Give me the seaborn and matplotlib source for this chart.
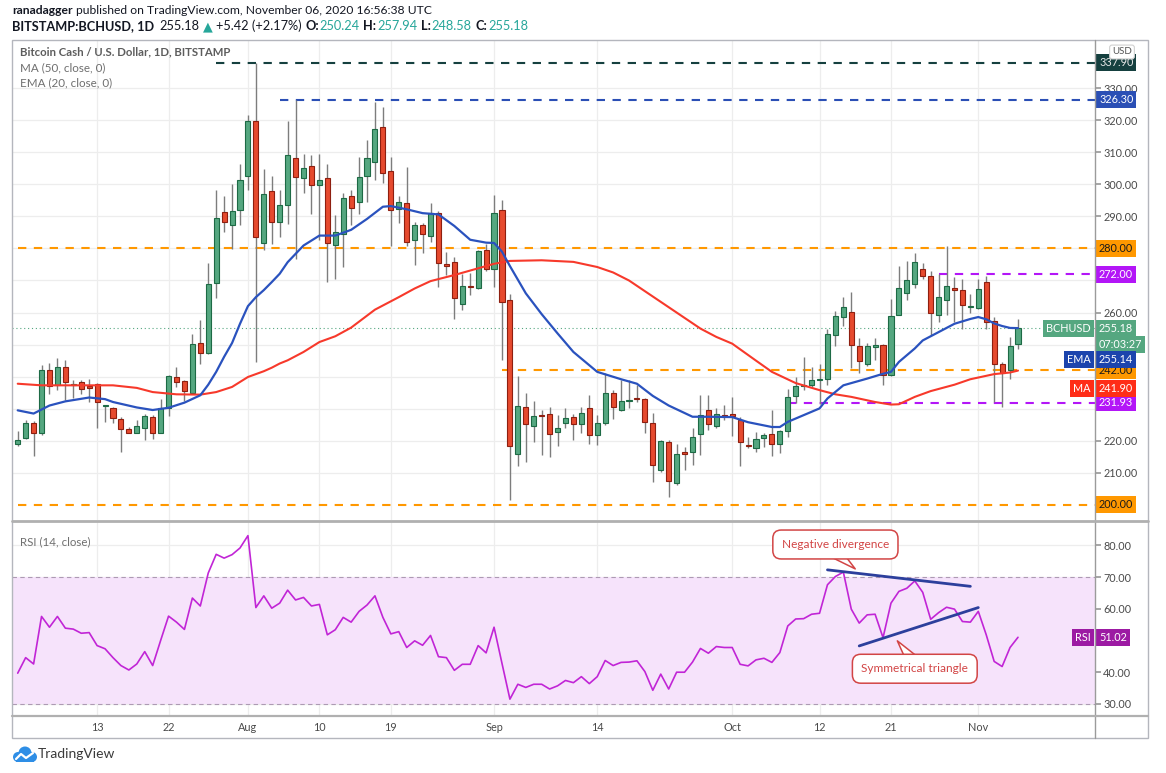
import numpy as np
import pandas as pd
import matplotlib
matplotlib.use("Agg")
import matplotlib.pyplot as plt
import seaborn as sns
from matplotlib.patches import Rectangle, Circle
from matplotlib.lines import Line2D

W, H = 1166, 773

# BITSTAMP:BCHUSD daily candles, 2020-07-03 .. 2020-11-06
start_date = "2020-07-03"
opens = [218.9, 220.9, 225.4, 222.5, 242.2, 237.5, 243.0, 237.3, 238.2, 237.0,
         237.8, 230.7, 230.1, 226.9, 223.8, 222.5, 224.1, 227.5, 222.5, 230.1,
         239.9, 238.6, 234.9, 250.6, 247.5, 269.3, 291.5, 287.4, 292.0, 302.5,
         319.6, 281.8, 297.8, 288.2, 293.4, 308.2, 301.9, 305.6, 299.8, 301.9,
         281.1, 284.6, 296.2, 294.4, 302.5, 306.9, 317.8, 304.0, 292.4, 294.2,
         282.7, 287.2, 283.8, 291.1, 275.1, 275.7, 262.8, 268.4, 267.7, 279.4,
         273.5, 292.0, 264.0, 216.0, 230.4, 224.7, 228.0, 228.5, 222.6, 225.4,
         227.5, 225.1, 230.3, 221.7, 225.6, 235.0, 229.5, 232.5, 233.5, 232.9,
         225.4, 211.0, 219.7, 206.9, 216.6, 216.6, 222.0, 229.7, 224.7, 228.2,
         228.3, 226.6, 218.8, 217.8, 221.0, 222.0, 219.1, 223.1, 234.0, 237.0,
         237.5, 238.9, 239.2, 253.1, 258.6, 260.2, 249.6, 243.8, 249.3, 250.0,
         240.6, 259.3, 266.1, 269.0, 273.7, 271.3, 259.1, 264.0, 267.7, 267.1,
         261.7, 261.5, 269.5, 257.3, 244.1, 242.0, 250.24]
highs = [223.1, 226.6, 226.1, 243.6, 244.3, 245.8, 245.3, 238.9, 239.1, 239.4,
         238.0, 231.1, 230.6, 227.5, 224.3, 226.4, 228.5, 228.0, 232.9, 240.4,
         243.0, 239.1, 253.4, 257.8, 275.4, 298.3, 296.2, 300.1, 306.4, 321.7,
         337.9, 304.8, 302.7, 298.3, 319.7, 326.3, 309.3, 309.0, 309.3, 306.2,
         290.3, 297.2, 298.1, 308.5, 313.9, 325.6, 324.2, 308.5, 296.5, 305.4,
         288.2, 287.9, 294.2, 291.6, 278.9, 277.3, 272.1, 272.3, 279.4, 281.5,
         296.8, 295.0, 265.9, 240.1, 234.9, 232.4, 229.7, 230.4, 228.0, 230.1,
         228.5, 230.4, 234.4, 228.0, 241.2, 235.8, 238.9, 238.9, 237.3, 233.2,
         228.7, 220.2, 220.2, 218.9, 218.1, 224.0, 234.2, 234.2, 230.1, 231.1,
         233.7, 227.5, 221.2, 222.6, 222.3, 229.7, 223.3, 236.0, 239.9, 246.1,
         243.0, 244.1, 255.0, 260.4, 265.0, 266.4, 252.2, 250.6, 252.2, 250.3,
         264.3, 274.4, 276.0, 278.5, 275.5, 273.1, 272.1, 280.7, 271.1, 270.6,
         265.9, 270.6, 271.3, 258.6, 244.6, 252.4, 257.94]
lows = [218.5, 220.7, 215.2, 221.7, 234.7, 235.8, 232.6, 233.2, 234.7, 232.1,
        224.0, 225.9, 225.6, 216.6, 222.3, 222.3, 220.2, 220.7, 222.3, 227.7,
        236.8, 232.4, 234.7, 244.1, 247.2, 264.6, 285.1, 279.9, 287.2, 298.1,
        244.6, 279.6, 281.5, 283.7, 287.7, 276.8, 297.3, 290.8, 282.5, 269.5,
        270.6, 274.2, 287.2, 290.6, 294.4, 301.2, 300.4, 280.9, 287.9, 280.6,
        274.7, 278.5, 282.0, 268.0, 271.6, 258.1, 260.9, 265.4, 267.4, 272.9,
        268.0, 245.3, 201.5, 212.2, 213.4, 219.5, 215.5, 215.0, 218.3, 224.0,
        220.4, 222.3, 219.1, 218.6, 224.9, 226.9, 229.3, 230.1, 232.1, 222.3,
        207.2, 210.3, 202.5, 206.1, 210.8, 212.4, 215.5, 223.3, 224.0, 226.4,
        221.5, 212.1, 217.6, 216.6, 218.1, 215.2, 216.3, 221.2, 231.9, 235.8,
        236.8, 231.6, 237.5, 249.6, 255.7, 242.7, 241.0, 243.3, 245.1, 237.5,
        240.1, 259.1, 263.8, 267.7, 270.6, 252.9, 257.1, 259.1, 257.1, 255.0,
        259.9, 261.2, 255.0, 232.1, 230.6, 239.4, 248.58]
closes = [220.4, 225.4, 222.5, 242.0, 237.1, 243.0, 238.4, 237.8, 236.3, 236.6,
          232.1, 230.9, 227.1, 223.8, 222.5, 224.5, 227.8, 222.5, 230.3, 240.1,
          238.2, 235.6, 250.3, 247.5, 268.8, 289.4, 288.2, 291.8, 301.2, 319.6,
          283.5, 297.0, 288.2, 293.6, 309.0, 302.4, 305.1, 299.8, 301.4, 281.8,
          285.1, 295.8, 292.6, 302.4, 308.2, 317.1, 303.5, 292.0, 294.4, 282.0,
          287.4, 284.4, 291.1, 275.4, 274.5, 264.5, 268.2, 268.0, 279.1, 273.7,
          291.0, 263.3, 218.4, 230.8, 225.1, 227.8, 227.7, 222.0, 224.0, 227.2,
          225.1, 228.8, 221.7, 225.4, 234.9, 230.6, 232.3, 232.7, 233.1, 225.9,
          212.4, 219.9, 207.5, 216.0, 215.9, 221.2, 228.0, 225.2, 228.5, 227.6,
          227.8, 219.5, 218.3, 220.7, 221.7, 219.1, 223.0, 233.7, 237.0, 237.2,
          238.9, 239.4, 253.4, 258.8, 261.7, 250.0, 244.9, 249.6, 249.9, 240.6,
          258.8, 267.7, 270.2, 275.7, 271.3, 259.9, 264.8, 268.2, 267.1, 262.2,
          261.9, 267.4, 257.1, 244.1, 241.0, 249.6, 255.18]

# RSI (14, close), one value per candle
rsi = [39.7, 44.6, 42.6, 57.6, 54.2, 57.6, 53.9, 53.6, 52.3, 52.5,
       48.4, 47.4, 44.6, 42.1, 40.7, 42.6, 46.5, 42.1, 50.0, 57.7,
       55.8, 53.5, 63.4, 60.9, 71.3, 77.2, 76.0, 77.1, 79.2, 83.1,
       60.4, 64.1, 60.2, 61.8, 65.9, 62.8, 63.6, 60.9, 61.4, 51.8,
       53.4, 57.3, 55.8, 59.2, 61.2, 64.1, 57.3, 52.1, 52.8, 47.8,
       49.9, 48.5, 51.6, 44.9, 44.6, 40.6, 42.5, 42.5, 48.4, 46.1,
       54.2, 42.8, 31.5, 36.2, 35.2, 36.2, 36.2, 34.7, 35.7, 37.4,
       36.7, 38.6, 36.4, 38.6, 43.7, 42.1, 43.1, 43.2, 43.6, 40.2,
       34.3, 39.4, 34.7, 40.0, 40.0, 43.2, 47.5, 46.0, 48.1, 47.8,
       47.8, 42.5, 42.0, 43.9, 44.4, 43.1, 46.2, 54.6, 56.8, 56.9,
       58.3, 58.6, 67.6, 70.2, 71.6, 59.9, 55.5, 58.1, 58.3, 50.9,
       61.8, 65.5, 66.5, 68.8, 65.2, 56.7, 58.8, 60.5, 59.9, 56.0,
       55.8, 59.2, 51.8, 43.4, 41.8, 47.8, 51.02]

# EMA(20) and MA(50) read at sample days (day 0 = start_date)
ema_days = [0, 2, 4, 6, 9, 11, 12, 15, 17, 19, 21, 23, 24, 25, 26, 27, 28, 29,
            30, 31, 32, 33, 34, 36, 38, 40, 42, 44, 46, 47, 49, 51, 53, 55, 57,
            59, 60, 61, 62, 64, 66, 67, 68, 70, 73, 76, 78, 80, 82, 85, 87, 90,
            92, 95, 96, 97, 99, 101, 102, 104, 107, 109, 110, 111, 113, 114,
            116, 118, 120, 121, 122, 123, 124, 125, 126]
ema_vals = [229.5, 228.5, 231.0, 232.3, 233.5, 233.0, 232.1, 230.4, 229.6, 230.3,
            231.9, 234.2, 237.5, 241.5, 246.2, 250.5, 256.5, 262.0, 264.8, 267.0,
            269.5, 272.1, 275.7, 280.9, 284.0, 284.0, 285.8, 289.2, 293.0, 293.2,
            292.2, 291.0, 290.6, 287.0, 282.7, 281.8, 281.7, 279.0, 274.5, 266.0,
            259.5, 256.5, 253.5, 247.7, 241.5, 239.2, 237.8, 234.0, 231.0, 227.5,
            227.5, 227.4, 225.8, 224.3, 224.3, 225.9, 228.0, 230.1, 233.2, 237.3,
            239.4, 240.9, 241.5, 244.6, 248.8, 251.3, 253.9, 256.5, 258.0, 258.6,
            257.9, 256.6, 255.8, 255.2, 255.14]
ma_days = [0, 3, 8, 12, 15, 17, 20, 23, 25, 27, 29, 31, 32, 33, 34, 36, 38, 40,
           42, 45, 48, 50, 52, 55, 58, 60, 62, 66, 70, 73, 75, 77, 80, 83, 86,
           88, 90, 93, 95, 98, 101, 103, 105, 108, 110, 111, 113, 115, 118, 120,
           123, 125, 126]
ma_vals = [237.8, 237.3, 237.3, 237.3, 236.5, 235.2, 234.5, 234.4, 235.2, 236.8,
           239.9, 241.7, 242.8, 244.1, 245.1, 247.7, 250.8, 252.6, 255.3, 260.9,
           264.8, 267.5, 269.8, 271.7, 273.8, 275.2, 276.1, 276.3, 275.8, 274.2,
           272.5, 270.0, 265.0, 260.0, 255.0, 252.4, 250.3, 245.0, 241.5, 238.0,
           235.8, 234.5, 233.7, 232.1, 231.3, 231.4, 233.7, 235.5, 237.5, 239.2,
           240.8, 241.3, 241.9]

# horizontal levels drawn by the author
level_vals = [337.90, 326.30, 280.00, 272.00, 242.00, 231.93, 200.00]
level_from = [25, 33, 0, 116, 61, 97, 0]
level_colors = ["#15403f", "#2b4fb5", "#ff9800", "#b316f7", "#ff9800", "#b316f7", "#ff9800"]
level_text = ["#e8e8e8", "white", "#1a1a1a", "white", "#1a1a1a", "white", "#1a1a1a"]

# RSI trend lines
div_days, div_vals = [102, 120], [72.3, 67.1]
tri_days, tri_vals = [106, 121], [48.3, 60.4]

tick_dates = ["2020-07-13", "2020-07-22", "2020-08-01", "2020-08-10", "2020-08-19",
              "2020-09-01", "2020-09-14", "2020-10-01", "2020-10-12", "2020-10-21",
              "2020-11-01"]
tick_labels = ["13", "22", "Aug", "10", "19", "Sep", "14", "Oct", "12", "21", "Nov"]
price_ticks = [210, 220, 230, 240, 250, 260, 270, 280, 290, 300, 310, 320, 330]
price_hidden = [230, 240, 250, 270, 280]      # covered by the coloured tags
rsi_ticks = [30, 40, 50, 60, 70, 80]
rsi_hidden = [50]

# ---------------------------------------------------------------------------
sns.set_theme(style="white")
plt.rcParams["font.family"] = ["Lato", "DejaVu Sans"]

GREEN, GREEN_E = "#55a780", "#1d6a45"
RED, RED_E = "#e64a2e", "#8e1f10"
GRID = "#ededed"
TXT = "#4a4a4a"

start = pd.Timestamp(start_date)
n = len(closes)
x = np.arange(n)
o, h, l, c = map(np.asarray, (opens, highs, lows, closes))
tick_pos = (pd.to_datetime(tick_dates) - start).days.values
XL = (-0.72, 135.7)


def fx(px):
    return px / W


def fy(py):
    return 1 - py / H


fig = plt.figure(figsize=(W / 100, H / 100), dpi=100)
ax = fig.add_axes([fx(12), fy(520), fx(1083), 480 / H])
ax2 = fig.add_axes([fx(12), fy(715), fx(1083), 193 / H])

for a in (ax, ax2):
    for s in a.spines.values():
        s.set_visible(False)
    a.set_xlim(*XL)
    a.set_xticks(tick_pos)
    a.grid(True, color=GRID, lw=0.9, zorder=0)
    a.set_axisbelow(True)
    a.yaxis.tick_right()
    a.tick_params(axis="y", which="both", length=4, color="#9a9a9a", labelsize=7.8,
                  labelcolor=TXT, pad=2, right=True, left=False)

ax.set_ylim(195.3, 345.0)
ax.set_yticks(price_ticks)
ax.set_yticklabels(["" if v in price_hidden else f"{v:.2f}" for v in price_ticks])
ax.tick_params(axis="x", length=0, labelbottom=False)

# candles
up = c >= o
body_lo = np.minimum(o, c)
body_h = np.maximum(np.abs(c - o), 0.35)
ax.vlines(x, l, h, color="#7d7d7d", lw=1.0, zorder=3)
ax.bar(x[up], body_h[up], bottom=body_lo[up], width=0.64, color=GREEN,
       edgecolor=GREEN_E, lw=0.8, zorder=4)
ax.bar(x[~up], body_h[~up], bottom=body_lo[~up], width=0.64, color=RED,
       edgecolor=RED_E, lw=0.8, zorder=4)

# moving averages
sns.lineplot(x=ma_days, y=ma_vals, ax=ax, color="#f7392b", lw=1.5, zorder=5)
sns.lineplot(x=ema_days, y=ema_vals, ax=ax, color="#2a52be", lw=1.6, zorder=5)

# levels
for v, x0, col in zip(level_vals, level_from, level_colors):
    ax.plot([x0, XL[1]], [v, v], color=col, lw=1.5, dashes=(4, 3.6), zorder=2)
ax.axhline(closes[-1], color=GREEN, lw=0.8, ls=(0, (1, 2.5)), zorder=2)

ax.set_xlabel("")
ax.set_ylabel("")


def tag(a, yv, text, bg, fg, side="right", size=7.8, weight="normal"):
    if side == "right":
        xa, ha = 1 + 4 / 1083, "left"
    else:
        xa, ha = 1 - 4 / 1083, "right"
    a.text(xa, yv, text, transform=a.get_yaxis_transform(), ha=ha, va="center",
           fontsize=size, color=fg, fontweight=weight, clip_on=False, zorder=20,
           bbox=dict(boxstyle="square,pad=0.28", fc=bg, ec="none"))


def py2price(py):
    return 280 - (py - 248) / 3.208


for v, col, fg in zip(level_vals, level_colors, level_text):
    tag(ax, v, f"{v:.2f}", col, fg)
tag(ax, py2price(328), f"{closes[-1]:.2f}", GREEN, "white")
tag(ax, py2price(328), "BCHUSD", GREEN, "white", side="left")
tag(ax, py2price(344.5), "07:03:27", GREEN, "white")
tag(ax, py2price(359), f"{ema_vals[-1]:.2f}", "#1c44ad", "white")
tag(ax, py2price(359), "EMA", "#1c44ad", "white", side="left")
tag(ax, py2price(388), "241.90", "#ff2d17", "white")
tag(ax, py2price(388), "MA", "#ff2d17", "white", side="left")

ax.text(0.0075, 0.976, "Bitcoin Cash / U.S. Dollar, 1D, BITSTAMP", transform=ax.transAxes,
        fontsize=8.2, color="#5d5d5d", fontweight="bold", va="center")
ax.text(0.0075, 0.943, "MA (50, close, 0)", transform=ax.transAxes,
        fontsize=8.4, color="#6f6f6f", va="center")
ax.text(0.0075, 0.911, "EMA (20, close, 0)", transform=ax.transAxes,
        fontsize=8.4, color="#6f6f6f", va="center")

# RSI panel
ax2.set_ylim(26.5, 87.4)
ax2.set_yticks(rsi_ticks)
ax2.set_yticklabels(["" if v in rsi_hidden else f"{v:.2f}" for v in rsi_ticks])
ax2.axhspan(30, 70, color="#f6e3fb", zorder=1, lw=0)
for v in (30, 70):
    ax2.axhline(v, color="#ad9ab3", lw=0.8, ls=(0, (4, 3)), zorder=2)
sns.lineplot(x=x, y=rsi, ax=ax2, color="#c125d6", lw=1.2, zorder=5)
sns.lineplot(x=div_days, y=div_vals, ax=ax2, color="#2c3f9c", lw=2.0, zorder=6)
sns.lineplot(x=tri_days, y=tri_vals, ax=ax2, color="#2c3f9c", lw=2.0, zorder=6)
ax2.set_xticklabels(tick_labels)
ax2.tick_params(axis="x", length=0, labelsize=7.8, labelcolor=TXT, pad=5)
ax2.set_xlabel("")
ax2.set_ylabel("")
ax2.text(0.0075, 0.9, "RSI (14, close)", transform=ax2.transAxes,
         fontsize=8.3, color="#6f6f6f", va="center")
tag(ax2, rsi[-1], f"{rsi[-1]:.2f}", "#9c1aa3", "white")
tag(ax2, rsi[-1], "RSI", "#9c1aa3", "white", side="left")

CALL = "#d24545"
callbox = dict(boxstyle="round,pad=0.75,rounding_size=0.7", fc="white", ec=CALL, lw=1.1)
ax2.annotate("Negative divergence", xy=(105.5, 72.6), xytext=(103.0, 80.3),
             ha="center", va="center", fontsize=8.6, color=CALL, bbox=callbox, zorder=8,
             arrowprops=dict(arrowstyle="wedge,tail_width=1.0,shrink_factor=0.5",
                             fc="white", ec=CALL, lw=1.1, relpos=(0.47, 0.0),
                             patchA=None, shrinkA=0, shrinkB=0, mutation_scale=10))
ax2.annotate("Symmetrical triangle", xy=(110.8, 49.9), xytext=(113.0, 41.1),
             ha="center", va="center", fontsize=8.6, color=CALL, bbox=callbox, zorder=8,
             arrowprops=dict(arrowstyle="wedge,tail_width=1.0,shrink_factor=0.5",
                             fc="white", ec=CALL, lw=1.1, relpos=(0.5, 1.0),
                             patchA=None, shrinkA=0, shrinkB=0, mutation_scale=10))

# frame around the chart
FRAME = "#b4b6bd"
fig.add_artist(Rectangle((fx(12), fy(738)), fx(1136), 698 / H, transform=fig.transFigure,
                         fill=False, ec=FRAME, lw=1.0))
fig.add_artist(Line2D([fx(1095), fx(1095)], [fy(40), fy(738)], color="#9b9b9b", lw=1.0))
fig.add_artist(Line2D([fx(12), fx(1148)], [fy(521), fy(521)], color="#b0b0b0", lw=2.0))
fig.add_artist(Line2D([fx(12), fx(1148)], [fy(715.5), fy(715.5)], color="#b0b0b0", lw=1.6))

fig.text(fx(1122), fy(52), "USD", fontsize=7, color="#555555", ha="center", va="center",
         bbox=dict(boxstyle="round,pad=0.25", fc="white", ec="#d0d0d0", lw=0.8))

# header lines with coloured runs
renderer = fig.canvas.get_renderer()


def runs(px, py, parts, size):
    xpos = px
    for text, color, weight, gap in parts:
        xpos += gap
        t = fig.text(fx(xpos), fy(py), text, fontsize=size, color=color, fontweight=weight,
                     ha="left", va="center")
        xpos += t.get_window_extent(renderer=renderer).width


DARK = "#131722"
UPC = "#26a69a"
runs(12, 10, [("ranadagger", DARK, "bold", 0),
              ("published on TradingView.com, November 06, 2020 16:56:38 UTC", DARK, "normal", 3.3)],
     8.7)
runs(12, 26, [("BITSTAMP:BCHUSD, 1D", DARK, "bold", 0),
              (f"{closes[-1]:.2f}", DARK, "normal", 5),
              ("▲", UPC, "normal", 3.5),
              ("+5.42 (+2.17%)", DARK, "normal", 3.5),
              ("O:", DARK, "bold", 3.5), (f"{opens[-1]:.2f}", UPC, "normal", 1),
              ("H:", DARK, "bold", 3.5), (f"{highs[-1]:.2f}", UPC, "normal", 1),
              ("L:", DARK, "bold", 3.5), (f"{lows[-1]:.2f}", UPC, "normal", 1),
              ("C:", DARK, "bold", 3.5), (f"{closes[-1]:.2f}", UPC, "normal", 1)],
     9.2)

# TradingView logo
lg = fig.add_axes([fx(12), fy(764), fx(26), 20 / H])
lg.set_xlim(0, 26)
lg.set_ylim(0, 20)
lg.set_aspect("equal")
lg.axis("off")
for cx, cy, r in [(6, 7, 5), (13, 11, 6.5), (20, 7, 5)]:
    lg.add_patch(Circle((cx, cy), r, color="#2e8ee6", lw=0))
lg.add_patch(Rectangle((4, 2), 18, 6, color="#2e8ee6", lw=0))
lg.plot([4, 9, 14, 21], [5, 10, 6, 11], color="white", lw=1.6)
fig.text(fx(38), fy(754), "TradingView", fontsize=10, color="#3a3a3a", va="center")

fig.savefig("out.png", dpi=100)
